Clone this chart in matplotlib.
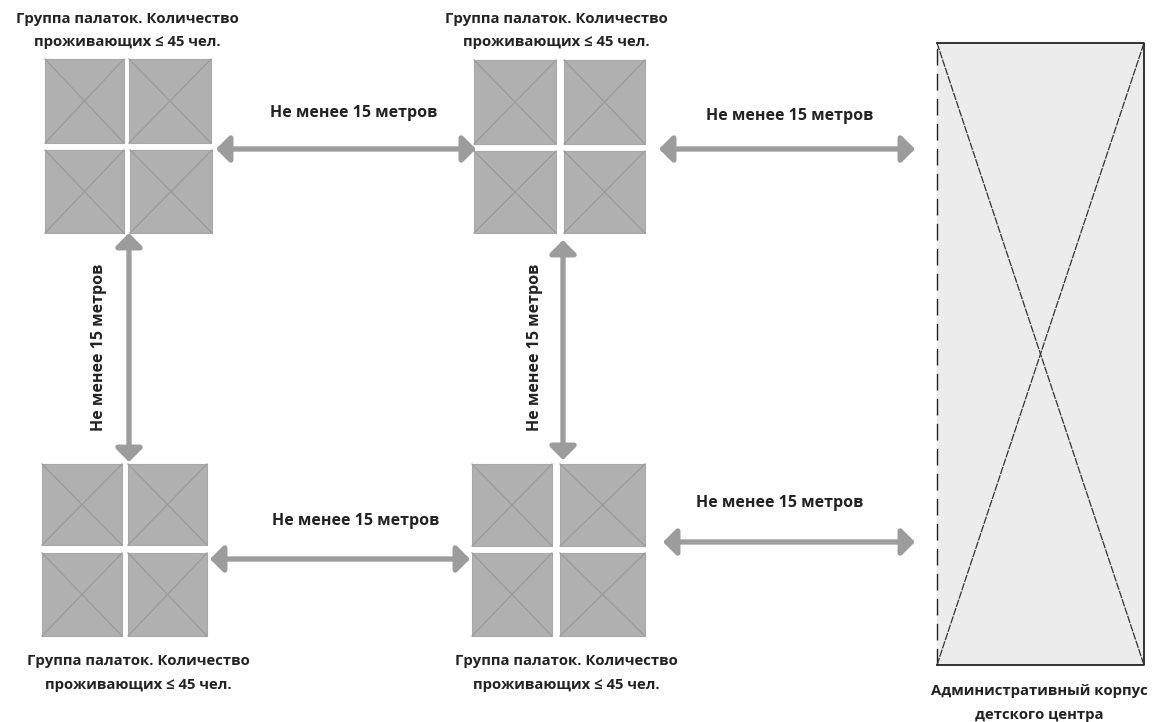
import matplotlib
matplotlib.use("Agg")
import matplotlib.pyplot as plt
from matplotlib.patches import Rectangle, FancyArrowPatch

plt.rcParams['font.family'] = ['Open Sans', 'DejaVu Sans']

GROUP_LABEL = "Группа палаток. Количество\nпроживающих ≤ 45 чел."
DIST_LABEL = "Не менее 15 метров"
ADMIN_LABEL = "Административный корпус\nдетского центра"

# squares: x0, x1, y0, y1 (pixel coordinates of the reference picture)
squares = [
    (45, 124, 59, 143), (129, 211, 59, 143), (45, 124, 150, 233), (130, 212, 150, 233),
    (474, 556, 60, 144), (564, 645, 60, 144), (474, 556, 151, 233), (564, 645, 151, 233),
    (42, 122, 464, 545), (128, 207, 464, 545), (42, 122, 553, 636), (128, 207, 553, 636),
    (472, 552, 464, 546), (560, 645, 464, 546), (472, 552, 553, 636), (560, 645, 553, 636),
]
arrows = [
    (216, 149, 476, 149), (659, 149, 915, 149),
    (210, 559, 470, 559), (663, 542, 915, 542),
    (129, 233, 129, 462), (563, 240, 563, 460),
]
group_labels = [(127, 30.5), (556, 30.5), (138, 673), (566, 673)]
dist_labels = [(354, 113, 0), (790, 116, 0), (356, 521, 0), (780, 503, 0),
               (99, 347, 90), (535, 347, 90)]
admin_box = (937, 1144, 43, 665)
admin_label_pos = (1039, 703)

fig = plt.figure(figsize=(11.59, 7.22), dpi=100)
ax = fig.add_axes([0, 0, 1, 1])
ax.set_xlim(0, 1159)
ax.set_ylim(722, 0)
ax.axis("off")

for x0, x1, y0, y1 in squares:
    ax.add_patch(Rectangle((x0, y0), x1 - x0, y1 - y0, fc="#b0b0b0", ec="#a8a8a8", lw=0.8))
    ax.plot([x0, x1], [y0, y1], color="#9a9a9a", lw=0.9)
    ax.plot([x0, x1], [y1, y0], color="#9a9a9a", lw=0.9)

for x0, y0, x1, y1 in arrows:
    ax.add_patch(FancyArrowPatch((x0, y0), (x1, y1), arrowstyle="<|-|>,head_length=5,head_width=5",
                                 shrinkA=0, shrinkB=0, color="#9c9c9c", lw=3.8, mutation_scale=1.6))

bx0, bx1, by0, by1 = admin_box
ax.add_patch(Rectangle((bx0, by0), bx1 - bx0, by1 - by0, fc="#ececec", ec="none"))
ax.plot([bx0, bx1, bx1, bx0], [by0, by0, by1, by1], color="#222222", lw=1.3)
ax.plot([bx0, bx0], [by1, by0], color="#222222", lw=1.0, ls=(0, (12, 6)))
ax.plot([bx0, bx1], [by0, by1], color="#333333", lw=0.9, ls=(0, (6, 1)))
ax.plot([bx0, bx1], [by1, by0], color="#333333", lw=0.9, ls=(0, (6, 1)))

text_style = dict(ha="center", va="center", fontweight="bold", color="#222222")
for x, y in group_labels:
    ax.text(x, y, GROUP_LABEL, fontsize=10.7, linespacing=1.85, **text_style)
for x, y, r in dist_labels:
    ax.text(x, y, DIST_LABEL, rotation=r, fontsize=11.5, **text_style)
ax.text(*admin_label_pos, ADMIN_LABEL, fontsize=10.7, linespacing=1.85, **text_style)

fig.savefig("out.png", dpi=100)
